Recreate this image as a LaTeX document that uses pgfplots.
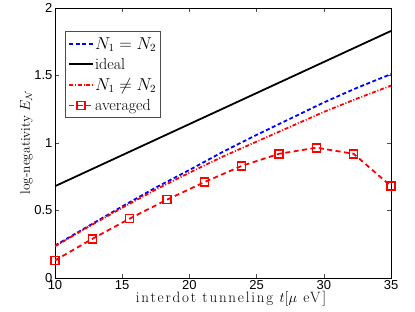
\documentclass[border=0pt]{standalone}
\usepackage{fontspec}
\setmainfont{Latin Modern Roman}
\usepackage{pgfplots}
\pgfplotsset{compat=1.18}
\newfontfamily\helv{Liberation Sans}
\newcommand\xlab{\fontsize{15}{17}\selectfont\addfontfeature{LetterSpace=12}}
\newcommand\ylab{\fontsize{13.5}{15}\selectfont}
\newcommand\leglab{\fontsize{16}{18}\selectfont}
\begin{document}
\begin{tikzpicture}
\begin{axis}[
  name=ax,
  scale only axis,
  width=336pt, height=270pt,
  xmin=10, xmax=35, ymin=0, ymax=2,
  xtick={10,15,...,35},
  ytick={0,0.5,1,1.5,2},
  tick align=inside,
  major tick length=4pt,
  tick style={black!70, line width=0.5pt},
  axis line style={line width=0.8pt},
  ticklabel style={font=\fontsize{13}{15}\helv},
  xticklabel style={yshift=1pt},
  yticklabel style={xshift=1pt},
  /pgf/number format/assume math mode=true,
  xlabel={interdot tunneling $t[\mu$ eV]},
  ylabel={log-negativity $E_{\mathcal{N}}$},
  xlabel style={font=\xlab, yshift=5pt, xshift=8pt},
  ylabel style={font=\ylab, yshift=-5pt},
  legend style={at={(rel axis cs:0.03,0.915)}, anchor=north west,
    font=\leglab, draw=black!70, line width=0.5pt,
    nodes={inner xsep=1pt},
    row sep=3.5pt, inner xsep=3pt, inner ysep=4pt, legend cell align=left},
  legend image code/.code={\draw[#1, line width=1.8pt] (0pt,0pt) -- (24pt,0pt);
    \draw[#1, only marks] plot coordinates {(12pt,0pt)};},
]
\addplot[blue, line width=1.8pt, dash pattern=on 4pt off 2.5pt] coordinates {
 (10,0.24) (12.5,0.385) (15,0.53) (17.5,0.67) (20,0.80) (22.5,0.935)
 (25,1.06) (27.5,1.18) (30,1.30) (32.5,1.41) (35,1.51)};
\addlegendentry{$N_1=N_2$}
\addplot[black, line width=1.8pt] coordinates {
 (10,0.68) (15,0.91) (20,1.14) (25,1.37) (30,1.60) (35,1.83)};
\addlegendentry{ideal}
\addplot[red, line width=1.8pt, dash pattern=on 4pt off 1.8pt on 1pt off 1.8pt] coordinates {
 (10,0.235) (12.5,0.38) (15,0.52) (17.5,0.655) (20,0.78) (22.5,0.90)
 (25,1.01) (27.5,1.12) (30,1.23) (32.5,1.33) (35,1.425)};
\addlegendentry{$N_1\neq N_2$}
\addplot[red, line width=1.8pt, dash pattern=on 5pt off 3.5pt,
  mark=square, mark size=4pt, mark options={solid, line width=1.6pt}] coordinates {
 (10,0.13) (12.7778,0.29) (15.5556,0.44) (18.3333,0.58) (21.1111,0.71)
 (23.8889,0.83) (26.6667,0.92) (29.4444,0.965) (32.2222,0.92) (35,0.68)};
\addlegendentry{averaged}
\end{axis}
\path (ax.south west) ++(-55pt,-34pt) coordinate (bl);
\path (ax.north east) ++(24pt,8pt) coordinate (tr);
\path[use as bounding box] (bl) rectangle (tr);
\end{tikzpicture}
\end{document}
